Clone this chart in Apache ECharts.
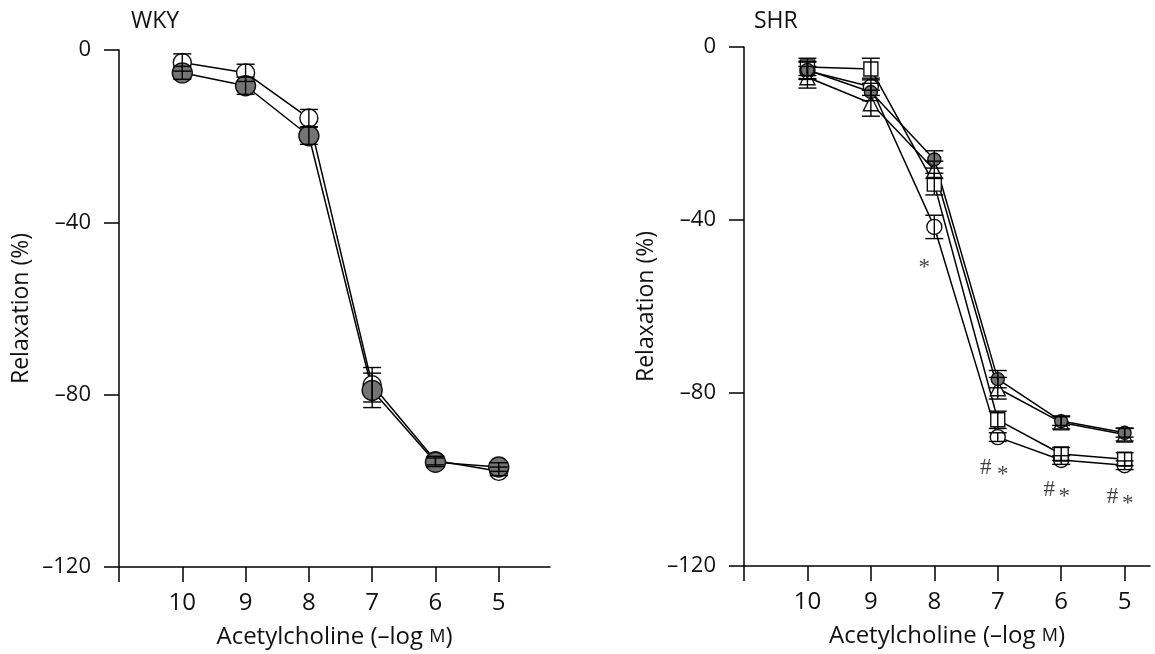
<!DOCTYPE html>
<html>
<head>
<meta charset="utf-8">
<script src="https://cdn.jsdelivr.net/npm/echarts@6/dist/echarts.min.js"></script>
<style>
  html, body { margin: 0; padding: 0; background: #fff; }
  #chart { width: 1155px; height: 654px; }
</style>
</head>
<body>
<div id="chart"></div>
<script>
// concentrations (-log M)
const doses = [10, 9, 8, 7, 6, 5];
const xTicks = [5, 6, 7, 8, 9, 10, 11];
const xLabels = [5, 6, 7, 8, 9, 10];

// WKY
const wkyOpen = [-2.9, -5.3, -15.8, -77.7, -95.3, -97.8];
const wkyOpenErr = [2, 2, 2, 4, 1, 1];
const wkyFilled = [-5.3, -8.3, -19.9, -79, -95.7, -96.8];
const wkyFilledErr = [1.5, 2, 2, 4, 1, 1];

// SHR
const shrCircle = [-5.5, -9.2, -41.6, -90.2, -95.5, -96.7];
const shrCircleErr = [2, 2, 2.7, 1, 1, 1];
const shrSquare = [-4.6, -5.1, -31.7, -86.2, -94.1, -95.3];
const shrSquareErr = [2, 2.5, 2.5, 2, 1.5, 1.5];
const shrFilled = [-5.3, -10.4, -26, -76.8, -86.5, -89.2];
const shrFilledErr = [2, 2, 2, 2, 1, 1];
const shrTriangle = [-7, -13, -28.4, -78.9, -86.8, -89.6];
const shrTriangleErr = [2.5, 3, 2, 2.5, 1.5, 1.5];

// significance marks (SHR)
const markX = [8.16, 7.19, 6.92, 6.19, 5.95, 5.19, 4.95];
const markY = [-51.1, -97.3, -99, -102.4, -104, -104, -105.7];
const markText = ['*', '#', '*', '#', '*', '#', '*'];

const font = 'Open Sans';
const chart = echarts.init(document.getElementById('chart'));

function pairs(vals) {
  return doses.map((d, i) => [d, vals[i]]);
}

function lineSeries(idx, vals, symbol, size, filled) {
  return {
    type: 'line',
    xAxisIndex: idx, yAxisIndex: idx,
    data: pairs(vals),
    symbol: symbol,
    symbolSize: size,
    showSymbol: true,
    lineStyle: { color: '#000', width: 1.5 },
    itemStyle: {
      color: filled ? '#747474' : '#fff',
      borderColor: '#111',
      borderWidth: 1.4
    },
    z: 3
  };
}

function errSeries(idx, vals, errs, cap) {
  return {
    type: 'custom',
    xAxisIndex: idx, yAxisIndex: idx,
    data: doses.map((d, i) => [d, vals[i], errs[i]]),
    encode: { x: 0, y: 1 },
    clip: false,
    z: 4,
    renderItem: function (params, api) {
      const x = api.value(0), y = api.value(1), e = api.value(2);
      const hi = api.coord([x, y + e]);
      const lo = api.coord([x, y - e]);
      const style = { stroke: '#000', lineWidth: 1.4 };
      return {
        type: 'group',
        children: [
          { type: 'line', shape: { x1: hi[0], y1: hi[1], x2: lo[0], y2: lo[1] }, style: style },
          { type: 'line', shape: { x1: hi[0] - cap, y1: hi[1], x2: hi[0] + cap, y2: hi[1] }, style: style },
          { type: 'line', shape: { x1: lo[0] - cap, y1: lo[1], x2: lo[0] + cap, y2: lo[1] }, style: style }
        ]
      };
    }
  };
}

function xAxis(idx, min) {
  return {
    type: 'value', gridIndex: idx, inverse: true,
    min: min, max: 11,
    name: 'Acetylcholine (–log {sc|M})',
    nameLocation: 'middle', nameGap: 58,
    nameTextStyle: {
      fontFamily: font, fontSize: 24, color: '#111',
      rich: { sc: { fontFamily: font, fontSize: 18, color: '#111' } }
    },
    axisLine: { onZero: false, lineStyle: { color: '#000', width: 1.5 } },
    axisTick: { inside: false, length: 15, customValues: xTicks, lineStyle: { color: '#000', width: 1.5 } },
    axisLabel: { customValues: xLabels, margin: 24, fontFamily: font, fontSize: 24, color: '#111' },
    splitLine: { show: false }
  };
}

function yAxis(idx) {
  return {
    type: 'value', gridIndex: idx,
    min: -120, max: 0, interval: 40,
    name: 'Relaxation (%)',
    nameLocation: 'middle', nameGap: 86,
    nameTextStyle: { fontFamily: font, fontSize: 23, color: '#111' },
    axisLine: { onZero: false, lineStyle: { color: '#000', width: 1.5 } },
    axisTick: { inside: false, length: 15, lineStyle: { color: '#000', width: 1.5 } },
    axisLabel: {
      margin: 28, fontFamily: font, fontSize: 22, color: '#111',
      formatter: v => v === 0 ? '0' : '–' + Math.abs(v)
    },
    splitLine: { show: false }
  };
}

chart.setOption({
  animation: false,
  backgroundColor: '#fff',
  title: [
    { text: 'WKY', left: 126, top: 5, textStyle: { fontFamily: font, fontSize: 23, fontWeight: 'normal', color: '#111' } },
    { text: 'SHR', left: 749, top: 5, textStyle: { fontFamily: font, fontSize: 23, fontWeight: 'normal', color: '#111' } }
  ],
  grid: [
    { left: 119, top: 50, width: 431, height: 518 },
    { left: 744, top: 47, width: 406, height: 519 }
  ],
  xAxis: [xAxis(0, 4.19), xAxis(1, 4.6)],
  yAxis: [yAxis(0), yAxis(1)],
  series: [
    lineSeries(0, wkyOpen, 'circle', 18, false),
    lineSeries(0, wkyFilled, 'circle', 20, true),
    errSeries(0, wkyOpen, wkyOpenErr, 9),
    errSeries(0, wkyFilled, wkyFilledErr, 9),

    lineSeries(1, shrCircle, 'circle', 15, false),
    lineSeries(1, shrSquare, 'rect', 14, false),
    lineSeries(1, shrTriangle, 'triangle', 15, false),
    lineSeries(1, shrFilled, 'circle', 13, true),
    errSeries(1, shrCircle, shrCircleErr, 9),
    errSeries(1, shrSquare, shrSquareErr, 9),
    errSeries(1, shrTriangle, shrTriangleErr, 9),
    errSeries(1, shrFilled, shrFilledErr, 9),
    {
      type: 'scatter',
      xAxisIndex: 1, yAxisIndex: 1,
      data: markX.map((x, i) => ({ value: [x, markY[i]], label: { formatter: markText[i] } })),
      symbolSize: 1,
      itemStyle: { color: 'rgba(0,0,0,0)' },
      label: {
        show: true, position: 'inside',
        fontFamily: 'Liberation Serif', fontSize: 23, color: '#111'
      },
      z: 5
    }
  ]
});
</script>
</body>
</html>
